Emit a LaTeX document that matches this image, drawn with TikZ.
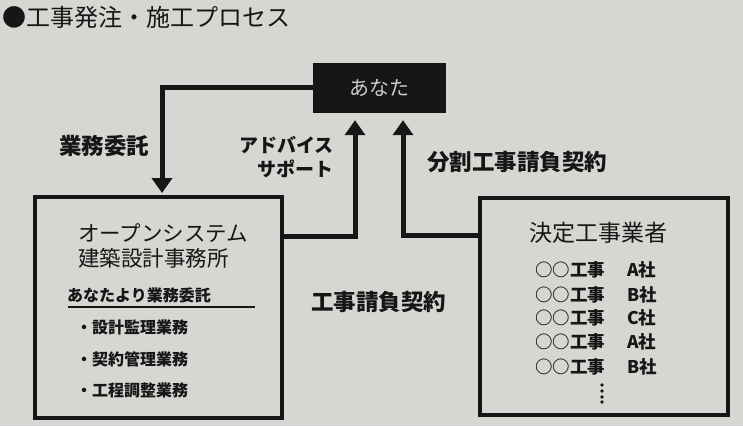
\documentclass[tikz,border=0pt]{standalone}
\usepackage{fontspec}
\setmainfont{Noto Sans CJK JP}
\usetikzlibrary{arrows.meta}
\definecolor{bg}{RGB}{216,214,210}
\definecolor{ink}{RGB}{22,22,22}
\definecolor{pale}{RGB}{205,205,203}
\tikzset{
  box/.style={draw=ink, line width=4pt, fill=bg, inner sep=0pt},
  arr/.style={draw=ink, line width=5pt, -{Triangle[width=20pt,length=15pt]}},
  lab/.style={text=ink, font=\bfseries\fontsize{22.5}{24}\selectfont, inner sep=0pt},
  bigtxt/.style={text=ink, font=\fontsize{21.5}{23}\selectfont, inner sep=0pt, anchor=west},
  item/.style={text=ink, font=\bfseries\fontsize{16}{18}\selectfont, inner sep=0pt, anchor=west},
  row/.style={text=ink, font=\bfseries\fontsize{17.5}{20}\selectfont, inner sep=0pt, anchor=west},
}
\begin{document}
\begin{tikzpicture}[x=1pt,y=-1pt]
\fill[bg] (0,0) rectangle (743,426);
\useasboundingbox (0,0) rectangle (743,426);

\node[text=ink, font=\fontsize{24}{26}\selectfont, inner sep=0pt, anchor=west] (title) at (2,17) {●工事発注・施工プロセス};

\node[fill=ink, draw=ink, minimum width=132pt, minimum height=49pt, inner sep=0pt, text=pale, font=\fontsize{20}{22}\selectfont] (anata) at (379,87.5) {あなた};

\node[box, minimum width=247pt, minimum height=221pt] (lbox) at (158.5,307.5) {};
\node[box, minimum width=248pt, minimum height=217pt] (rbox) at (604,306.5) {};

% arrows
\draw[arr] (anata.west) -| ([xshift=3.5pt,yshift=2pt]lbox.north);
\draw[arr] ([yshift=-41pt]lbox.north east) -| ([xshift=-24pt,yshift=-8pt]anata.south);
\draw[arr] ([yshift=-39pt]rbox.north west) -| ([xshift=24pt,yshift=-8pt]anata.south);

% labels
\node[lab, anchor=west] (itaku) at (59,146) {業務委託};
\node[lab, anchor=east, align=right, font=\bfseries\fontsize{19}{24}\selectfont] (advice) at (334,157) {アドバイス\\サポート};
\node[lab, anchor=west] (bunkatsu) at (427,162) {分割工事請負契約};
\node[lab, anchor=west] (ukeoi) at (311,302) {工事請負契約};

% left box content
\node[bigtxt] (l1) at (78,233) {オープンシステム};
\node[bigtxt] (l2) at (78,258) {建築設計事務所};
\node[item] (l3) at (67,295) {あなたより業務委託};
\draw[ink, line width=2pt] (68,307) -- (255,307);
\node[item] (i1) at (76,327) {・設計監理業務};
\node[item] (i2) at (76,359) {・契約管理業務};
\node[item] (i3) at (76,390) {・工程調整業務};

% right box content
\node[text=ink, font=\fontsize{23}{25}\selectfont, inner sep=0pt, anchor=west] (kettei) at (529,233) {決定工事業者};
\foreach \y/\c [count=\i] in {270/A,295/B,318/C,342/A,367/B}{
  \node[row] (w\i) at (535,\y) {○○工事};
  \node[row] (c\i) at (627,\y) {\c 社};
}
\foreach \y in {385,391,397,402}{
  \fill[ink] (602,\y) circle (1.8pt);
}
\end{tikzpicture}
\end{document}
